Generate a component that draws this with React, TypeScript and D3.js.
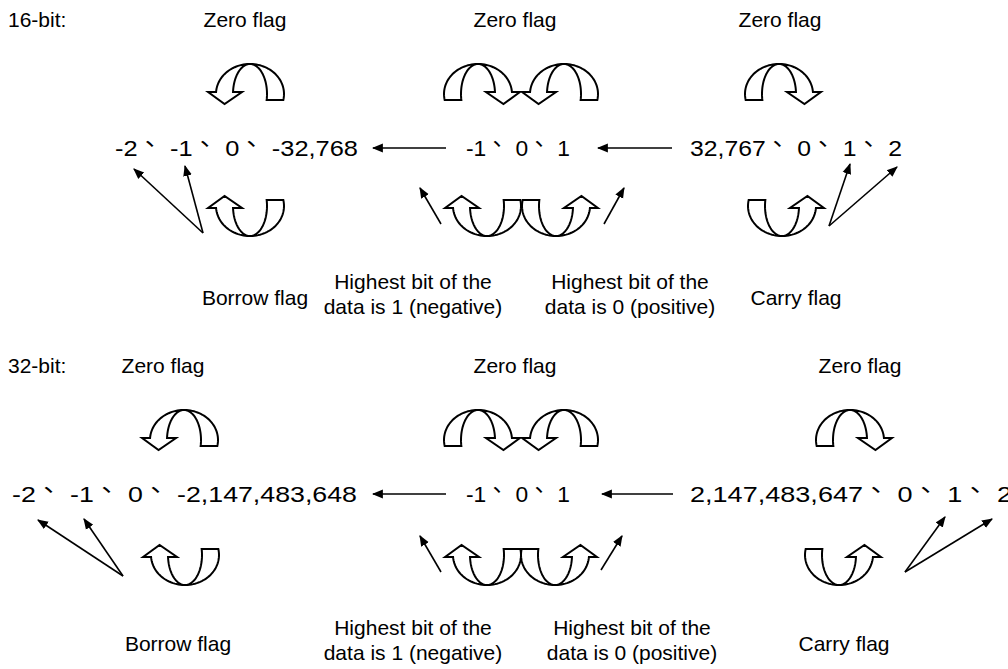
import React from "react";
import * as d3 from "d3";

const W = 1008;
const H = 669;

// ---- text content ----
const sectionTitles = ["16-bit:", "32-bit:"];
const zeroFlagLabel = "Zero flag";
const numberTexts16 = ["-2 、-1 、0 、-32,768", "-1 、0 、1", "32,767 、0 、1 、2"];
const numberTexts32 = ["-2 、-1 、0 、-2,147,483,648", "-1 、0 、1", "2,147,483,647 、0 、1 、2"];
const borrowLabel = ["Borrow flag"];
const negativeLabel = ["Highest bit of the", "data is 1 (negative)"];
const positiveLabel = ["Highest bit of the", "data is 0 (positive)"];
const carryLabel = ["Carry flag"];

// ---- layout (per section) ----
const sections = [
  {
    oy: 0,
    title: sectionTitles[0],
    numbers: numberTexts16,
    zeroX: [245, 515, 780],
    numSpans: [[115, 358], [466, 570], [690, 902]],
    topArrows: [{ cx: 250, head: -1 }, { cx: 478, head: 1 }, { cx: 564, head: -1 }, { cx: 779, head: 1 }],
    uY: 236,
    bottomArrows: [{ cx: 250, head: -1 }, { cx: 487, head: -1 }, { cx: 556, head: 1 }, { cx: 782, head: 1 }],
    hArrows: [[446, 373], [672, 598]],
    straight: [[203, 233, 134, 169], [203, 233, 185, 166], [441, 224, 420, 188], [604, 224, 624, 188], [829, 226, 850, 164], [829, 226, 897, 167]],
    labelX: [255, 413, 630, 796],
  },
  {
    oy: 346,
    title: sectionTitles[1],
    numbers: numberTexts32,
    zeroX: [163, 515, 860],
    numSpans: [[12, 357], [466, 570], [690, 1012]],
    topArrows: [{ cx: 184, head: -1 }, { cx: 478, head: 1 }, { cx: 564, head: -1 }, { cx: 850, head: 1 }],
    uY: 239,
    bottomArrows: [{ cx: 185, head: -1 }, { cx: 487, head: -1 }, { cx: 555, head: 1 }, { cx: 839, head: 1 }],
    hArrows: [[446, 373], [673, 602]],
    straight: [[123, 230, 38, 174], [123, 230, 84, 173], [441, 226, 420, 190], [601, 224, 622, 190], [905, 226, 945, 171], [905, 226, 992, 173]],
    labelX: [178, 413, 632, 844],
  },
];

const FONT = "'Liberation Sans', Arial, Helvetica, sans-serif";
const LABEL_SIZE = 21;

function curvedArrowPath(cx: number, yc: number, s: number, hs: number): string {
  const rxo = 34, rxi = 17, ry = 30, dh = 28, dt = 36, hl = 12, barbO = 8, barbI = 9;
  const Cy = yc + s * ry;
  const pt = (rx: number, th: number): [number, number] => [cx + hs * rx * Math.cos(th), Cy + s * ry * Math.sin(th)];
  const aT = Math.asin((dt - ry) / ry);
  const aH = Math.asin((dh - ry) / ry);
  const thT = Math.PI - aT;
  const thH = 2 * Math.PI + aH;
  const n = 60;
  const outer = d3.range(n + 1).map((i) => pt(rxo, thT + ((thH - thT) * i) / n));
  const inner = d3.range(n + 1).map((i) => pt(rxi, thH - ((thH - thT) * i) / n));
  const yh = yc + s * dh;
  const xo = cx + hs * rxo * Math.cos(aH);
  const xi = cx + hs * rxi * Math.cos(aH);
  const head: [number, number][] = [
    [xo + hs * barbO, yh],
    [(xo + xi) / 2, yh + s * hl],
    [xi - hs * barbI, yh],
  ];
  return (d3.line()([...outer, ...head, ...inner]) as string) + "Z";
}

function NumberText({ text, x0, x1, y }: { text: string; x0: number; x1: number; y: number }) {
  const parts = text.split("、");
  const children: React.ReactNode[] = [];
  parts.forEach((p, i) => {
    if (i > 0) {
      children.push(
        <tspan key={"c" + i} dy={-11} fontFamily="'Noto Sans CJK SC', sans-serif">
          、
        </tspan>
      );
      children.push(
        <tspan key={"p" + i} dy={11}>
          {p}
        </tspan>
      );
    } else {
      children.push(<tspan key={"p" + i}>{p}</tspan>);
    }
  });
  return (
    <text x={x0} y={y} fontSize={22} fontFamily={FONT} textLength={x1 - x0} lengthAdjust="spacingAndGlyphs">
      {children}
    </text>
  );
}

export default function App() {
  return (
    <svg width={W} height={H} style={{ display: "block", position: "absolute", left: 0, top: 0, background: "#fff" }}>
      <defs>
        <marker id="ah" viewBox="0 0 10 10" refX="9" refY="5" markerWidth="11" markerHeight="11" markerUnits="userSpaceOnUse" orient="auto">
          <path d="M0,1 L10,5 L0,9 Z" fill="#000" />
        </marker>
      </defs>
      <rect width={W} height={H} fill="#fff" />
      {sections.map((sec, si) => (
        <g key={si} transform={`translate(0,${sec.oy})`}>
          <text x={8} y={27} fontSize={LABEL_SIZE} fontFamily={FONT}>
            {sec.title}
          </text>
          {sec.zeroX.map((x, i) => (
            <text key={i} x={x} y={27} fontSize={LABEL_SIZE} fontFamily={FONT} textAnchor="middle">
              {zeroFlagLabel}
            </text>
          ))}
          {sec.topArrows.map((a, i) => (
            <path key={"t" + i} d={curvedArrowPath(a.cx, 64, 1, a.head)} fill="#fff" stroke="#000" strokeWidth={2} />
          ))}
          {sec.bottomArrows.map((a, i) => (
            <path key={"b" + i} d={curvedArrowPath(a.cx, sec.uY, -1, a.head)} fill="#fff" stroke="#000" strokeWidth={2} />
          ))}
          {sec.numbers.map((t, i) => (
            <NumberText key={i} text={t} x0={sec.numSpans[i][0]} x1={sec.numSpans[i][1]} y={156} />
          ))}
          {sec.hArrows.map((h, i) => (
            <line key={"h" + i} x1={h[0]} y1={148} x2={h[1]} y2={148} stroke="#000" strokeWidth={1.6} markerEnd="url(#ah)" />
          ))}
          {sec.straight.map((l, i) => (
            <line key={"s" + i} x1={l[0]} y1={l[1]} x2={l[2]} y2={l[3]} stroke="#000" strokeWidth={1.6} markerEnd="url(#ah)" />
          ))}
          <text x={sec.labelX[0]} y={305} fontSize={LABEL_SIZE} fontFamily={FONT} textAnchor="middle">
            {borrowLabel[0]}
          </text>
          {negativeLabel.map((t, i) => (
            <text key={"n" + i} x={sec.labelX[1]} y={289 + i * 25} fontSize={LABEL_SIZE} fontFamily={FONT} textAnchor="middle">
              {t}
            </text>
          ))}
          {positiveLabel.map((t, i) => (
            <text key={"p" + i} x={sec.labelX[2]} y={289 + i * 25} fontSize={LABEL_SIZE} fontFamily={FONT} textAnchor="middle">
              {t}
            </text>
          ))}
          <text x={sec.labelX[3]} y={305} fontSize={LABEL_SIZE} fontFamily={FONT} textAnchor="middle">
            {carryLabel[0]}
          </text>
        </g>
      ))}
    </svg>
  );
}
